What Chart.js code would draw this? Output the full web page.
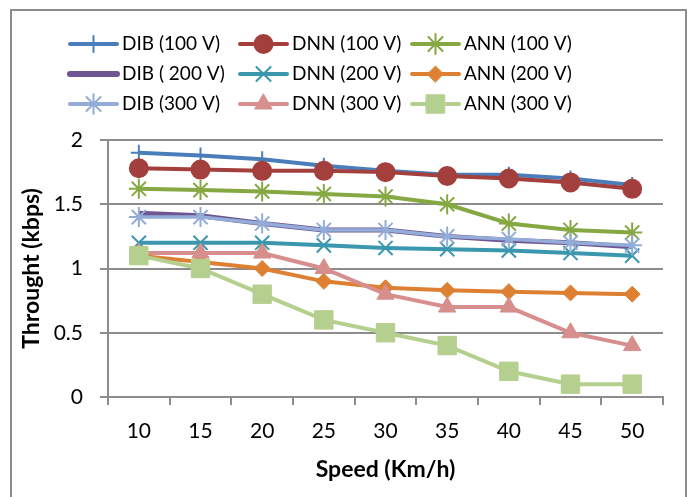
<!DOCTYPE html>
<html>
<head>
<meta charset="utf-8">
<script src="https://cdn.jsdelivr.net/npm/chart.js@4/dist/chart.umd.min.js"></script>
<style>
  html, body { margin: 0; padding: 0; background: #fff; }
  #wrap { position: relative; width: 696px; height: 497px; }
  #frame { position: absolute; left: 10px; top: 9px; width: 677px; height: 500px; border: 2px solid #8c8c8c; box-sizing: border-box; }
  canvas { position: absolute; left: 0; top: 0; }
</style>
</head>
<body>
<div id="wrap">
  <div id="frame"></div>
  <canvas id="speedChart" width="696" height="497"></canvas>
</div>
<script>
var speeds = ['10', '15', '20', '25', '30', '35', '40', '45', '50'];

var dib100 = [1.90, 1.88, 1.85, 1.80, 1.76, 1.73, 1.73, 1.70, 1.65];
var dnn100 = [1.78, 1.77, 1.76, 1.76, 1.75, 1.72, 1.70, 1.67, 1.62];
var ann100 = [1.62, 1.61, 1.60, 1.58, 1.56, 1.50, 1.35, 1.30, 1.28];
var dib200 = [1.43, 1.41, 1.35, 1.30, 1.30, 1.25, 1.22, 1.20, 1.17];
var dnn200 = [1.20, 1.20, 1.20, 1.18, 1.16, 1.15, 1.14, 1.12, 1.10];
var ann200 = [1.10, 1.05, 1.00, 0.90, 0.85, 0.83, 0.82, 0.81, 0.80];
var dib300 = [1.40, 1.40, 1.35, 1.30, 1.30, 1.25, 1.23, 1.20, 1.18];
var dnn300 = [1.12, 1.12, 1.12, 1.00, 0.80, 0.70, 0.70, 0.50, 0.40];
var ann300 = [1.10, 1.00, 0.80, 0.60, 0.50, 0.40, 0.20, 0.10, 0.10];

var seriesNames = ['DIB (100 V)', 'DNN (100 V)', 'ANN (100 V)',
                   'DIB ( 200 V)', 'DNN (200 V)', 'ANN (200 V)',
                   'DIB (300 V)', 'DNN (300 V)', 'ANN (300 V)'];

var yTicks = [0, 0.5, 1, 1.5, 2];
var yTickLabels = ['0', '0.5', '1', '1.5', '2'];

var FONT = 'Lato, "Open Sans", sans-serif';

function series(label, data, color, style, radius, bw, lw) {
    return {
        label: label,
        data: data,
        borderColor: color,
        backgroundColor: color,
        borderWidth: lw || 4,
        pointStyle: style,
        pointRadius: radius,
        pointHoverRadius: radius,
        pointBorderWidth: bw,
        pointBorderColor: color,
        pointBackgroundColor: color,
        tension: 0
    };
}

var datasets = [
    series(seriesNames[0], dib100, '#4a7ebb', 'cross', 8, 2),
    series(seriesNames[1], dnn100, '#a33f3c', 'circle', 9, 2),
    series(seriesNames[2], ann100, '#86a843', 'star', 10, 2),
    series(seriesNames[3], dib200, '#6f5592', 'circle', 0, 0, 5),
    series(seriesNames[4], dnn200, '#3a97ae', 'crossRot', 10, 2),
    series(seriesNames[5], ann200, '#dd8032', 'rectRot', 8, 1),
    series(seriesNames[6], dib300, '#93acd8', 'star', 10, 2, 3.5),
    series(seriesNames[7], dnn300, '#d68f8d', 'triangle', 10, 1),
    series(seriesNames[8], ann300, '#b5cf8e', 'rect', 13, 1)
];
// later series sit on top, like excel
datasets.forEach(function (d, i) { d.order = datasets.length - i; });

// legend in a 3x3 grid like the original
var gridLegend = {
    id: 'gridLegend',
    afterDraw: function (chart) {
        var ctx = chart.ctx;
        var cols = [70, 240, 412];
        var rows = [44, 74, 104];
        ctx.save();
        chart.data.datasets.forEach(function (ds, i) {
            var x = cols[i % 3];
            var y = rows[Math.floor(i / 3)];
            ctx.strokeStyle = ds.borderColor;
            ctx.lineWidth = ds.pointRadius > 0 ? 4 : 6;
            ctx.lineCap = 'round';
            ctx.beginPath();
            ctx.moveTo(x, y);
            ctx.lineTo(x + 47, y);
            ctx.stroke();
            if (ds.pointRadius > 0) {
                ctx.fillStyle = ds.pointBackgroundColor;
                ctx.strokeStyle = ds.pointBorderColor;
                ctx.lineWidth = ds.pointBorderWidth;
                Chart.helpers.drawPoint(ctx, {
                    pointStyle: ds.pointStyle,
                    radius: ds.pointRadius,
                    borderWidth: ds.pointBorderWidth,
                    rotation: 0
                }, x + 23.5, y);
            }
            ctx.fillStyle = '#000';
            ctx.font = '19px ' + FONT;
            ctx.textBaseline = 'middle';
            ctx.textAlign = 'left';
            ctx.fillText(ds.label, x + 52, y);
        });
        ctx.restore();
    }
};

var speedChart = document.getElementById('speedChart').getContext('2d');

let chart1 = new Chart(speedChart, {
    type: 'line',
    data: {
        labels: speeds,
        datasets: datasets
    },

    plugins: [gridLegend],

    options: {
        responsive: false,
        animation: false,
        events: [],
        layout: {
            padding: { left: 10, top: 140, right: 33, bottom: 12 }
        },
        plugins: {
            legend: { display: false },
            tooltip: { enabled: false }
        },
        scales: {
            x: {
                offset: true,
                grid: {
                    offset: true,
                    drawOnChartArea: false,
                    tickLength: 8,
                    color: '#8c8c8c',
                    lineWidth: 2
                },
                border: { color: '#8c8c8c', width: 2 },
                ticks: {
                    color: '#000',
                    padding: 14,
                    font: { family: FONT, size: 21 }
                },
                title: {
                    display: true,
                    text: 'Speed (Km/h)',
                    color: '#000',
                    padding: { top: 4, bottom: 2 },
                    font: { family: FONT, size: 23, weight: 'bold' }
                },
                afterFit: function (scale) { scale.height = 88; }
            },
            y: {
                min: 0,
                max: 2,
                afterBuildTicks: function (scale) {
                    scale.ticks = yTicks.map(function (v) { return { value: v }; });
                },
                grid: {
                    tickLength: 8,
                    color: '#8c8c8c',
                    lineWidth: 2
                },
                border: { color: '#8c8c8c', width: 2 },
                ticks: {
                    color: '#000',
                    padding: 17,
                    font: { family: FONT, size: 21 },
                    callback: function (value, index) { return yTickLabels[index]; }
                },
                title: {
                    display: true,
                    text: 'Throught (kbps)',
                    color: '#000',
                    padding: { top: 8, bottom: 0 },
                    font: { family: FONT, size: 23, weight: 'bold' }
                },
                afterFit: function (scale) { scale.width = 98; }
            }
        }
    }
});
</script>
</body>
</html>
